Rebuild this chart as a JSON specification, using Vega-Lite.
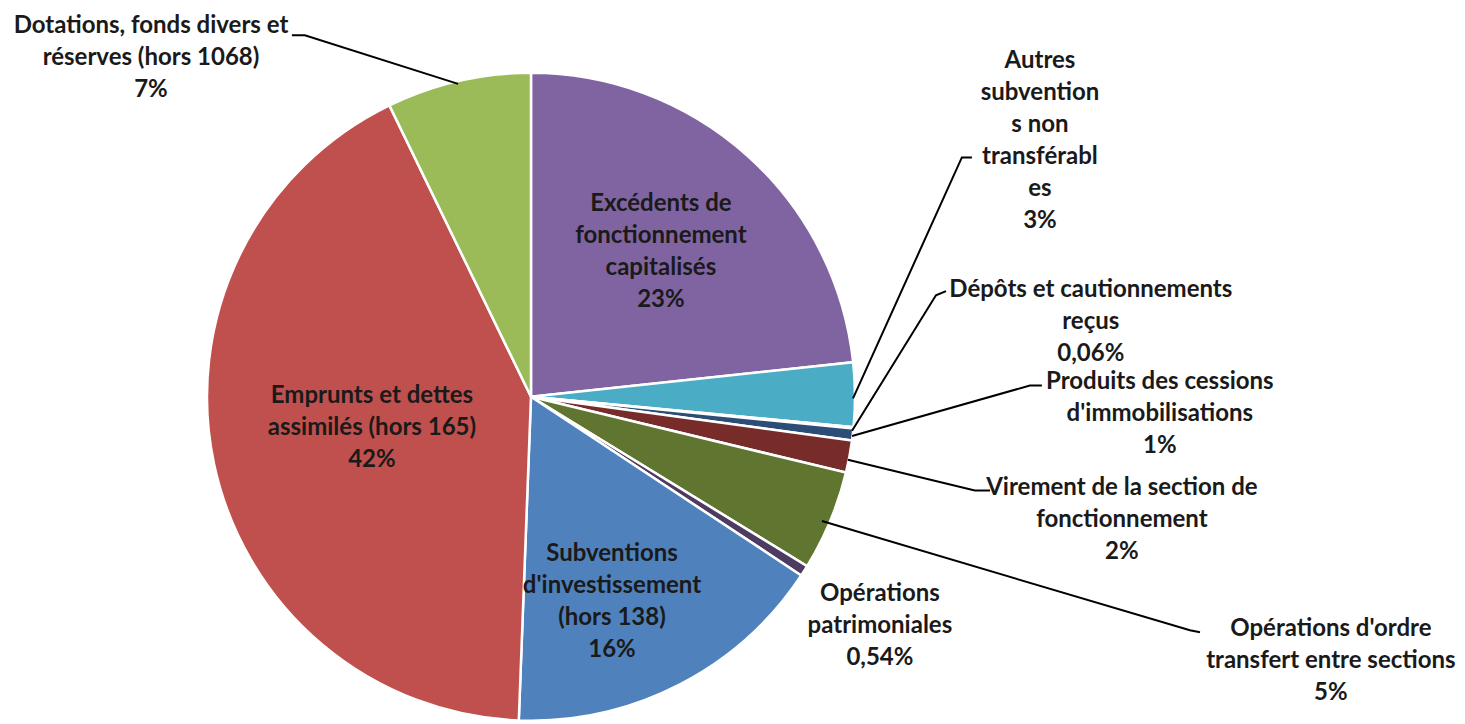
{
  "$schema": "https://vega.github.io/schema/vega-lite/v6.json",
  "width": 1465,
  "height": 724,
  "padding": 0,
  "autosize": {"type": "fit", "contains": "padding"},
  "background": "white",
  "config": {"view": {"stroke": null}},
  "datasets": {
    "parts": [
      {"poste": "Excédents de fonctionnement capitalisés", "valeur": 23.3, "rang": 1},
      {"poste": "Autres subventions non transférables", "valeur": 3.2, "rang": 2},
      {"poste": "Dépôts et cautionnements reçus", "valeur": 0.06, "rang": 3},
      {"poste": "Produits des cessions d'immobilisations", "valeur": 0.6, "rang": 4},
      {"poste": "Virement de la section de fonctionnement", "valeur": 1.6, "rang": 5},
      {"poste": "Opérations d'ordre transfert entre sections", "valeur": 5.0, "rang": 6},
      {"poste": "Opérations patrimoniales", "valeur": 0.54, "rang": 7},
      {"poste": "Subventions d'investissement (hors 138)", "valeur": 16.3, "rang": 8},
      {"poste": "Emprunts et dettes assimilés (hors 165)", "valeur": 42.2, "rang": 9},
      {"poste": "Dotations, fonds divers et réserves (hors 1068)", "valeur": 7.2, "rang": 10}
    ],
    "etiquettes": [
      {"texte": "Excédents de\nfonctionnement\ncapitalisés\n23%", "u": 40.1, "v": 60.0},
      {"texte": "Emprunts et dettes\nassimilés (hors 165)\n42%", "u": -49.1, "v": 0.3},
      {"texte": "Subventions\nd'investissement\n(hors 138)\n16%", "u": 25.0, "v": -49.1},
      {"texte": "Dotations, fonds divers et\nréserves (hors 1068)\n7%", "u": -117.3, "v": 115.3},
      {"texte": "Autres\nsubvention\ns non\ntransférabl\nes\n3%", "u": 157.1, "v": 104.5},
      {"texte": "Dépôts et cautionnements\nreçus\n0,06%", "u": 172.8, "v": 33.3},
      {"texte": "Produits des cessions\nd'immobilisations\n1%", "u": 194.1, "v": 4.6},
      {"texte": "Virement de la section de\nfonctionnement\n2%", "u": 182.4, "v": -28.4},
      {"texte": "Opérations d'ordre\ntransfert entre sections\n5%", "u": 246.9, "v": -72.3},
      {"texte": "Opérations\npatrimoniales\n0,54%", "u": 107.7, "v": -61.5}
    ],
    "reperes": [
      {"id": "dot", "pt": 1, "u": -22.5, "v": 97.4},
      {"id": "dot", "pt": 2, "u": -69.8, "v": 112.5},
      {"id": "dot", "pt": 3, "u": -73.8, "v": 112.5},
      {"id": "aut", "pt": 1, "u": 99.4, "v": -0.5},
      {"id": "aut", "pt": 2, "u": 133.0, "v": 74.5},
      {"id": "aut", "pt": 3, "u": 136.1, "v": 74.5},
      {"id": "dep", "pt": 1, "u": 99.1, "v": -10.6},
      {"id": "dep", "pt": 2, "u": 125.0, "v": 31.6},
      {"id": "dep", "pt": 3, "u": 128.1, "v": 32.9},
      {"id": "pro", "pt": 1, "u": 99.1, "v": -12.2},
      {"id": "pro", "pt": 2, "u": 154.0, "v": 3.5},
      {"id": "pro", "pt": 3, "u": 157.7, "v": 3.5},
      {"id": "vir", "pt": 1, "u": 97.8, "v": -19.6},
      {"id": "vir", "pt": 2, "u": 137.0, "v": -29.2},
      {"id": "vir", "pt": 3, "u": 141.7, "v": -29.2},
      {"id": "ord", "pt": 1, "u": 89.8, "v": -38.7},
      {"id": "ord", "pt": 2, "u": 203.4, "v": -72.7},
      {"id": "ord", "pt": 3, "u": 206.5, "v": -73.3}
    ]
  },
  "resolve": {"scale": {"x": "shared", "y": "shared"}},
  "layer": [
    {
      "data": {"name": "parts"},
      "mark": {"type": "arc", "outerRadius": 324, "stroke": "white", "strokeWidth": 2.5},
      "encoding": {
        "x": {"datum": 0, "type": "quantitative", "scale": {"domain": [-163.9, 288.3], "nice": false, "zero": false}, "axis": null},
        "y": {"datum": 0, "type": "quantitative", "scale": {"domain": [-100.0, 123.5], "nice": false, "zero": false}, "axis": null},
        "theta": {"field": "valeur", "type": "quantitative", "stack": true},
        "order": {"field": "rang", "type": "quantitative"},
        "color": {
          "field": "poste",
          "type": "nominal",
          "legend": null,
          "scale": {
            "domain": [
              "Excédents de fonctionnement capitalisés",
              "Autres subventions non transférables",
              "Dépôts et cautionnements reçus",
              "Produits des cessions d'immobilisations",
              "Virement de la section de fonctionnement",
              "Opérations d'ordre transfert entre sections",
              "Opérations patrimoniales",
              "Subventions d'investissement (hors 138)",
              "Emprunts et dettes assimilés (hors 165)",
              "Dotations, fonds divers et réserves (hors 1068)"
            ],
            "range": ["#8064A2", "#4BACC6", "#F79646", "#2C4D75", "#772C2A", "#5F7530", "#4D3B62", "#4F81BD", "#C0504D", "#9BBB59"]
          }
        }
      }
    },
    {
      "data": {"name": "reperes"},
      "mark": {"type": "line", "color": "black", "strokeWidth": 2},
      "encoding": {
        "x": {"field": "u", "type": "quantitative", "axis": null},
        "y": {"field": "v", "type": "quantitative", "axis": null},
        "detail": {"field": "id"},
        "order": {"field": "pt", "type": "quantitative"}
      }
    },
    {
      "data": {"name": "etiquettes"},
      "mark": {"type": "text", "font": "Lato", "fontWeight": "bold", "fontSize": 24, "lineHeight": 32, "lineBreak": "\n", "align": "center", "baseline": "middle", "color": "#1a1a1a"},
      "encoding": {
        "x": {"field": "u", "type": "quantitative", "axis": null},
        "y": {"field": "v", "type": "quantitative", "axis": null},
        "text": {"field": "texte"}
      }
    }
  ]
}
